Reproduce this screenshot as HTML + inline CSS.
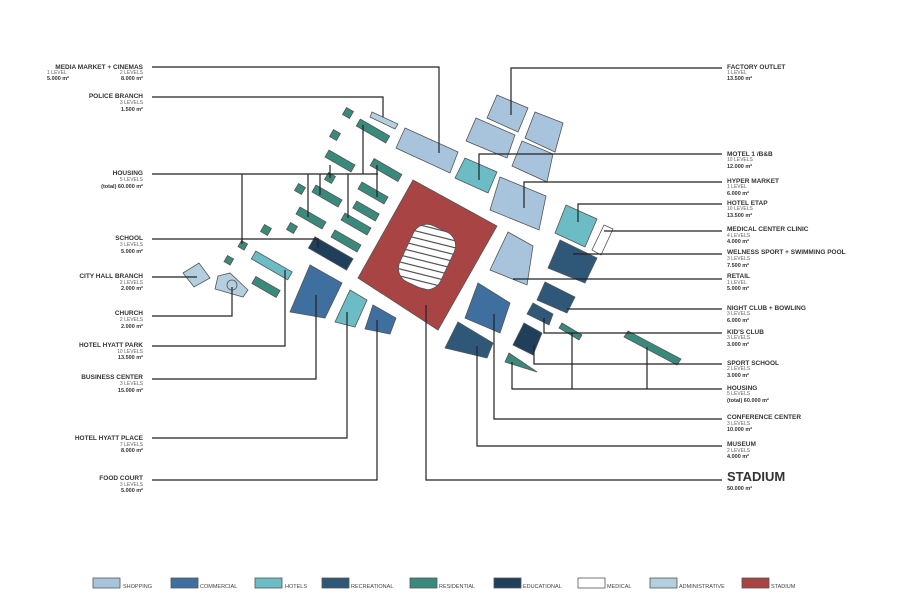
<!DOCTYPE html>
<html><head><meta charset="utf-8"><style>
html,body{margin:0;padding:0;background:#fff;}
svg{display:block;font-family:"Liberation Sans",sans-serif;}
.t{font-size:6.5px;font-weight:bold;fill:#333;}
.s{font-size:5px;fill:#666;}
.b{font-size:5.5px;font-weight:bold;fill:#333;}
.l{stroke:#222;stroke-width:1.2;fill:none;}
.k{stroke:#555;stroke-width:0.8;}
.lg{font-size:5.5px;fill:#444;}
</style></head><body>
<svg width="900" height="600" viewBox="0 0 900 600">
<defs>
<clipPath id="ov"><rect x="404.5" y="226" width="45" height="62" rx="15" transform="rotate(25 427 257)"/></clipPath>
</defs>
<g class="k">
<!-- stadium -->
<polygon points="413,180 497,226 438,330 358,278" fill="#a94444"/>
<rect x="404.5" y="226" width="45" height="62" rx="15" transform="rotate(25 427 257)" fill="#fff"/>
<g clip-path="url(#ov)" stroke="#555" stroke-width="1.2">
<line x1="380" y1="215" x2="480" y2="240"/><line x1="380" y1="222" x2="480" y2="247"/><line x1="380" y1="229" x2="480" y2="254"/><line x1="380" y1="236" x2="480" y2="261"/><line x1="380" y1="243" x2="480" y2="268"/><line x1="380" y1="250" x2="480" y2="275"/><line x1="380" y1="257" x2="480" y2="282"/><line x1="380" y1="264" x2="480" y2="289"/><line x1="380" y1="271" x2="480" y2="296"/><line x1="380" y1="278" x2="480" y2="303"/><line x1="380" y1="208" x2="480" y2="233"/><line x1="380" y1="201" x2="480" y2="226"/><line x1="380" y1="285" x2="480" y2="310"/>
</g>
<!-- residential small squares -->
<g fill="#3a8a7c">
<rect x="344" y="109" width="8" height="8" transform="rotate(30 348 113)"/>
<rect x="331" y="131" width="8" height="8" transform="rotate(30 335 135)"/>
<rect x="296" y="185" width="8" height="8" transform="rotate(30 300 189)"/>
<rect x="326" y="174" width="8" height="8" transform="rotate(30 330 178)"/>
<rect x="262" y="226" width="8" height="8" transform="rotate(30 266 230)"/>
<rect x="288" y="224" width="8" height="8" transform="rotate(30 292 228)"/>
<rect x="239" y="242" width="7" height="7" transform="rotate(30 243 246)"/>
<rect x="225" y="257" width="7" height="7" transform="rotate(30 229 261)"/>
<!-- bars -->
<rect x="356" y="127" width="34" height="8" transform="rotate(30 373 131)"/>
<rect x="325" y="157" width="30" height="8" transform="rotate(30 340 161)"/>
<rect x="370" y="166" width="32" height="8" transform="rotate(30 386 170)"/>
<rect x="312" y="192" width="30" height="8" transform="rotate(30 327 196)"/>
<rect x="358" y="189" width="30" height="8" transform="rotate(30 373 193)"/>
<rect x="296" y="214" width="30" height="8" transform="rotate(30 311 218)"/>
<rect x="341" y="220" width="30" height="8" transform="rotate(30 356 224)"/>
<rect x="353" y="207" width="26" height="8" transform="rotate(30 366 211)"/>
<rect x="331" y="237" width="30" height="8" transform="rotate(30 346 241)"/>
<rect x="252" y="283" width="28" height="8" transform="rotate(30 266 287)"/>
<polygon points="562,323 582,335 579,340 559,328"/>
<polygon points="628,331 681,359 677,365 624,337"/>
<polygon points="509,353 537,372 505,362"/>
</g>
<rect x="309" y="247" width="44" height="13" transform="rotate(30 331 253)" fill="#203f5a"/>
<rect x="251" y="261" width="42" height="9" transform="rotate(30 272 265)" fill="#6bbcc4"/>
<polygon points="372,112 398,124 395,129 370,117" fill="#b4cfe0"/>
<polygon points="183,273 199,263 210,278 194,287" fill="#b4cfe0"/>
<polygon points="218,276 230,273 248,290 243,297 215,289" fill="#b4cfe0"/>
<circle cx="232" cy="285" r="5" fill="#b4cfe0"/>
<!-- lower left -->
<polygon points="310,265 342,283 325,318 290,312" fill="#3f6f9f"/>
<polygon points="350,290 367,300 355,327 335,322" fill="#6bbcc4"/>
<polygon points="373,305 396,318 390,334 365,329" fill="#3f6f9f"/>
<!-- shopping -->
<g fill="#a8c4dc">
<polygon points="405,128 458,152 450,173 396,148"/>
<polygon points="497,95 528,108 518,132 487,118"/>
<polygon points="535,112 563,123 555,152 525,138"/>
<polygon points="476,118 515,135 507,158 466,141"/>
<polygon points="522,141 553,154 547,182 512,166"/>
<polygon points="500,177 546,196 539,230 490,210"/>
<polygon points="508,232 533,246 527,285 490,270"/>
</g>
<polygon points="465,158 497,172 488,193 455,178" fill="#6bbcc4"/>
<polygon points="566,205 597,219 585,247 555,233" fill="#6bbcc4"/>
<polygon points="604,225 613,229 601,255 592,250" fill="#fff"/>
<polygon points="560,240 597,258 585,283 548,268" fill="#2f5878"/>
<polygon points="545,282 575,297 567,313 537,300" fill="#2f5878"/>
<polygon points="533,303 553,314 549,325 527,314" fill="#2f5878"/>
<polygon points="524,323 542,333 533,355 513,345" fill="#203f5a"/>
<polygon points="478,283 510,303 500,333 465,318" fill="#3f6f9f"/>
<polygon points="458,322 493,343 487,358 445,348" fill="#2f5878"/>
</g>
<!-- connectors left -->
<g class="l">
<polyline points="152,67 439,67 439,153"/>
<polyline points="152,97 383,97 383,117"/>
<line x1="152" y1="174" x2="378" y2="174"/>
<line x1="242" y1="174" x2="242" y2="244"/>
<line x1="308" y1="174" x2="308" y2="217"/>
<line x1="320" y1="174" x2="320" y2="195"/>
<line x1="330" y1="165" x2="330" y2="178"/>
<line x1="348" y1="174" x2="348" y2="218"/>
<line x1="363" y1="125" x2="363" y2="174"/>
<line x1="377" y1="165" x2="377" y2="197"/>
<polyline points="152,239 318,239 318,248"/>
<line x1="152" y1="277" x2="197" y2="277"/>
<polyline points="152,316 232,316 232,287"/>
<polyline points="152,346 285,346 285,270"/>
<polyline points="152,379 316,379 316,295"/>
<polyline points="152,438 347,438 347,312"/>
<polyline points="152,480 377,480 377,320"/>
<polyline points="722,480 426,480 426,305"/>
<!-- right -->
<polyline points="722,68 511,68 511,115"/>
<polyline points="722,154 479,154 479,180"/>
<polyline points="722,182 524,182 524,208"/>
<polyline points="722,204 578,204 578,222"/>
<line x1="604" y1="231" x2="722" y2="231"/>
<line x1="573" y1="254" x2="722" y2="254"/>
<line x1="513" y1="279" x2="722" y2="279"/>
<line x1="567" y1="309" x2="722" y2="309"/>
<polyline points="544,318 544,333 722,333"/>
<polyline points="534,345 534,364 722,364"/>
<polyline points="512,362 512,389 722,389"/>
<line x1="572" y1="333" x2="572" y2="389"/>
<line x1="647" y1="347" x2="647" y2="389"/>
<polyline points="494,314 494,419 722,419"/>
<polyline points="477,346 477,446 722,446"/>
</g>
<!-- left labels -->
<g text-anchor="end">
<text class="t" x="143" y="69">MEDIA MARKET + CINEMAS</text>
<text class="s" x="143" y="74">2 LEVELS</text><text class="b" x="143" y="80">8.000 m²</text>
<text class="t" x="143" y="98">POLICE BRANCH</text><text class="s" x="143" y="104">3 LEVELS</text><text class="b" x="143" y="111">1.500 m²</text>
<text class="t" x="143" y="175">HOUSING</text><text class="s" x="143" y="181">5 LEVELS</text><text class="b" x="143" y="188">(total) 60.000 m²</text>
<text class="t" x="143" y="240">SCHOOL</text><text class="s" x="143" y="246">3 LEVELS</text><text class="b" x="143" y="253">5.000 m²</text>
<text class="t" x="143" y="278">CITY HALL BRANCH</text><text class="s" x="143" y="284">2 LEVELS</text><text class="b" x="143" y="290">2.000 m²</text>
<text class="t" x="143" y="315">CHURCH</text><text class="s" x="143" y="321">2 LEVELS</text><text class="b" x="143" y="328">2.000 m²</text>
<text class="t" x="143" y="347">HOTEL HYATT PARK</text><text class="s" x="143" y="353">10 LEVELS</text><text class="b" x="143" y="359">13.500 m²</text>
<text class="t" x="143" y="379">BUSINESS CENTER</text><text class="s" x="143" y="385">3 LEVELS</text><text class="b" x="143" y="392">15.000 m²</text>
<text class="t" x="143" y="440">HOTEL HYATT PLACE</text><text class="s" x="143" y="446">7 LEVELS</text><text class="b" x="143" y="452">8.000 m²</text>
<text class="t" x="143" y="480">FOOD COURT</text><text class="s" x="143" y="486">3 LEVELS</text><text class="b" x="143" y="492">5.000 m²</text>
</g>
<text class="s" x="47" y="74">1 LEVEL</text><text class="b" x="47" y="80">5.000 m²</text>
<!-- right labels -->
<g>
<text class="t" x="727" y="69">FACTORY OUTLET</text><text class="s" x="727" y="74">1 LEVEL</text><text class="b" x="727" y="80">13.500 m²</text>
<text class="t" x="727" y="156">MOTEL 1 /B&amp;B</text><text class="s" x="727" y="161">10 LEVELS</text><text class="b" x="727" y="168">12.000 m²</text>
<text class="t" x="727" y="183">HYPER MARKET</text><text class="s" x="727" y="188">1 LEVEL</text><text class="b" x="727" y="195">6.000 m²</text>
<text class="t" x="727" y="205">HOTEL ETAP</text><text class="s" x="727" y="210">10 LEVELS</text><text class="b" x="727" y="217">13.500 m²</text>
<text class="t" x="727" y="231">MEDICAL CENTER CLINIC</text><text class="s" x="727" y="237">4 LEVELS</text><text class="b" x="727" y="243">4.000 m²</text>
<text class="t" x="727" y="254">WELNESS SPORT + SWIMMING POOL</text><text class="s" x="727" y="260">3 LEVELS</text><text class="b" x="727" y="267">7.500 m²</text>
<text class="t" x="727" y="278">RETAIL</text><text class="s" x="727" y="284">1 LEVEL</text><text class="b" x="727" y="290">5.000 m²</text>
<text class="t" x="727" y="310">NIGHT CLUB + BOWLING</text><text class="s" x="727" y="315">3 LEVELS</text><text class="b" x="727" y="322">6.000 m²</text>
<text class="t" x="727" y="334">KID'S CLUB</text><text class="s" x="727" y="339">3 LEVELS</text><text class="b" x="727" y="346">3.000 m²</text>
<text class="t" x="727" y="365">SPORT SCHOOL</text><text class="s" x="727" y="370">2 LEVELS</text><text class="b" x="727" y="377">3.000 m²</text>
<text class="t" x="727" y="390">HOUSING</text><text class="s" x="727" y="395">5 LEVELS</text><text class="b" x="727" y="402">(total) 60.000 m²</text>
<text class="t" x="727" y="419">CONFERENCE CENTER</text><text class="s" x="727" y="425">3 LEVELS</text><text class="b" x="727" y="431">10.000 m²</text>
<text class="t" x="727" y="446">MUSEUM</text><text class="s" x="727" y="452">2 LEVELS</text><text class="b" x="727" y="458">4.000 m²</text>
<text x="727" y="481" style="font-size:13px;font-weight:bold;fill:#333">STADIUM</text><text class="b" x="727" y="490">50.000 m²</text>
</g>
<!-- legend -->
<g class="k">
<rect x="93" y="578" width="27" height="10" fill="#a8c4dc"/>
<rect x="171" y="578" width="27" height="10" fill="#3f6f9f"/>
<rect x="255" y="578" width="27" height="10" fill="#6bbcc4"/>
<rect x="322" y="578" width="27" height="10" fill="#2f5878"/>
<rect x="410" y="578" width="27" height="10" fill="#3a8a7c"/>
<rect x="494" y="578" width="27" height="10" fill="#203f5a"/>
<rect x="578" y="578" width="27" height="10" fill="#fff"/>
<rect x="650" y="578" width="27" height="10" fill="#b4cfe0"/>
<rect x="742" y="578" width="27" height="10" fill="#a94444"/>
</g>
<g class="lg">
<text x="123" y="588">SHOPPING</text><text x="200" y="588">COMMERCIAL</text><text x="285" y="588">HOTELS</text><text x="351" y="588">RECREATIONAL</text><text x="439" y="588">RESIDENTIAL</text><text x="523" y="588">EDUCATIONAL</text><text x="607" y="588">MEDICAL</text><text x="679" y="588">ADMINISTRATIVE</text><text x="771" y="588">STADIUM</text>
</g>
</svg>
</body></html>
